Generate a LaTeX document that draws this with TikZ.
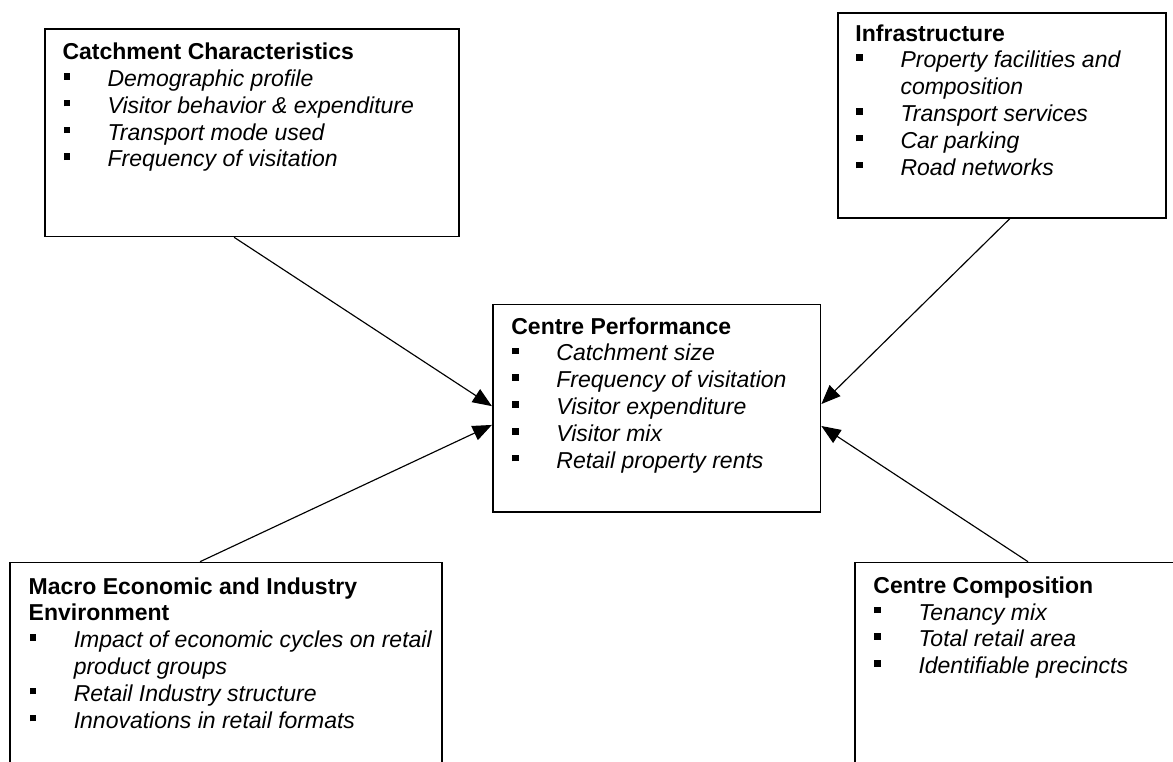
\documentclass[tikz,border=0pt]{standalone}
\usepackage{fontspec}
\setmainfont{Liberation Sans}
\usetikzlibrary{arrows.meta,positioning,calc}
\newcommand{\sqbul}{\rule[3.6pt]{3.4pt}{3.4pt}}
\newcommand{\itemline}[1]{\makebox[23.5pt][l]{\hspace*{0.5pt}\sqbul}\textit{#1}}
\newcommand{\itemcont}[1]{\hspace*{23.5pt}\textit{#1}}
\begin{document}
\begin{tikzpicture}[
  frame/.style={draw, line width=0.9pt, inner sep=0pt, anchor=north west},
  txt/.style={align=left, inner sep=0pt, font=\fontsize{12pt}{14pt}\selectfont},
  link/.style={line width=0.6pt, -{Triangle[length=10pt,width=8pt]}}
]
\useasboundingbox (0,0) rectangle (21.51,13.97);
\clip (0,0) rectangle (21.51,13.97);
\node[frame, minimum width=7.59cm, minimum height=3.81cm] (catch) at (0.81,13.46) {};
\node[frame, minimum width=6.01cm, minimum height=3.76cm] (infra) at (15.35,13.75) {};
\node[frame, minimum width=6.01cm, minimum height=3.80cm] (perf) at (9.02,8.40) {};
\node[frame, minimum width=7.92cm, minimum height=4.5cm] (macro) at (0.17,3.67) {};
\node[frame, minimum width=6.35cm, minimum height=4.5cm] (comp) at (15.66,3.67) {};
\node[txt, below right=0.27cm and 0.33cm of catch.north west] (catchtxt) {\textbf{Catchment Characteristics}\\
  \itemline{Demographic profile}\\
  \itemline{Visitor behavior \& expenditure}\\
  \itemline{Transport mode used}\\
  \itemline{Frequency of visitation}};
\node[txt, below right=0.22cm and 0.33cm of infra.north west] (infratxt) {\textbf{Infrastructure}\\
  \itemline{Property facilities and}\\
  \itemcont{composition}\\
  \itemline{Transport services}\\
  \itemline{Car parking}\\
  \itemline{Road networks}};
\node[txt, below right=0.245cm and 0.35cm of perf.north west] (perftxt) {\textbf{Centre Performance}\\
  \itemline{Catchment size}\\
  \itemline{Frequency of visitation}\\
  \itemline{Visitor expenditure}\\
  \itemline{Visitor mix}\\
  \itemline{Retail property rents}};
\node[txt, below right=0.28cm and 0.35cm of macro.north west] (macrotxt) {\textbf{Macro Economic and Industry}\\
  \textbf{Environment}\\
  \itemline{Impact of economic cycles on retail}\\
  \itemcont{product groups}\\
  \itemline{Retail Industry structure}\\
  \itemline{Innovations in retail formats}};
\node[txt, below right=0.265cm and 0.35cm of comp.north west] (comptxt) {\textbf{Centre Composition}\\
  \itemline{Tenancy mix}\\
  \itemline{Total retail area}\\
  \itemline{Identifiable precincts}};
\draw[link] ($(catch.south west)!0.457!(catch.south east)$) -- ($(perf.north west)!0.49!(perf.south west)$);
\draw[link] ($(infra.south west)!0.524!(infra.south east)$) -- ($(perf.north east)!0.48!(perf.south east)$);
\draw[link] ($(macro.north west)!0.44!(macro.north east)$) -- ($(perf.north west)!0.58!(perf.south west)$);
\draw[link] (comp.north) -- ($(perf.north east)!0.585!(perf.south east)$);
\end{tikzpicture}
\end{document}
